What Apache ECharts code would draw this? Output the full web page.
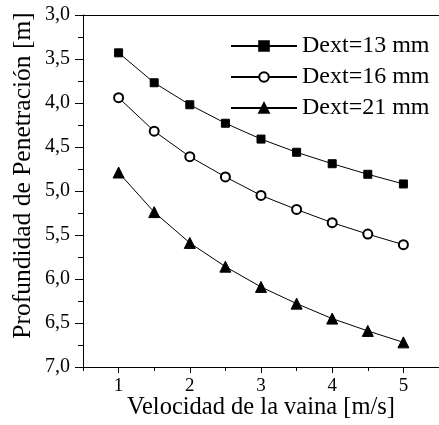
<!DOCTYPE html>
<html>
<head>
<meta charset="utf-8">
<script src="https://cdn.jsdelivr.net/npm/echarts@6/dist/echarts.min.js"></script>
<style>
html,body{margin:0;padding:0;background:#fff;}
#chart{width:439px;height:425px;}
</style>
</head>
<body>
<div id="chart"></div>
<script>
var xVals = [1, 1.5, 2, 2.5, 3, 3.5, 4, 4.5, 5];
var d13 = [3.43, 3.77, 4.02, 4.23, 4.41, 4.56, 4.69, 4.81, 4.92];
var d16 = [3.94, 4.32, 4.61, 4.84, 5.05, 5.21, 5.36, 5.49, 5.61];
var d21 = [4.79, 5.24, 5.59, 5.86, 6.09, 6.28, 6.45, 6.59, 6.72];
var seriesNames = ['Dext=13 mm', 'Dext=16 mm', 'Dext=21 mm'];
var xMajorTicks = [1, 2, 3, 4, 5];
var xMinorTicks = [0.5, 1.5, 2.5, 3.5, 4.5];
var xTitle = 'Velocidad de la vaina [m/s]';
var yTitle = 'Profundidad de Penetración [m]';

var FONT = '"Liberation Serif", "Times New Roman", serif';

function pairs(ys) { return xVals.map(function (x, i) { return [x, ys[i]]; }); }

var chart = echarts.init(document.getElementById('chart'), null, {renderer: 'canvas'});
var baseSeries = {
  type: 'line',
  xAxisIndex: 0,
  yAxisIndex: 0,
  lineStyle: {color: '#000', width: 1},
  itemStyle: {color: '#000', borderColor: '#000', borderWidth: 1},
  animation: false,
  z: 3
};
chart.setOption({
  backgroundColor: '#fff',
  animation: false,
  grid: {left: 83, top: 15, right: -2, bottom: 52, containLabel: false},
  legend: {
    orient: 'vertical',
    left: 230, top: 34, padding: 0,
    itemWidth: 66, itemHeight: 12, itemGap: 7,
    textStyle: {fontSize: 24, color: '#000', fontFamily: FONT},
    data: seriesNames
  },
  xAxis: [
    {
      type: 'value', position: 'bottom', min: 0.5, max: 5.5,
      name: xTitle, nameLocation: 'middle', nameGap: 28, nameMoveOverlap: false,
      nameTextStyle: {fontSize: 24.5, color: '#000', fontFamily: FONT},
      axisLine: {show: true, lineStyle: {color: '#000', width: 1}},
      axisTick: {show: true, length: 6, customValues: xMajorTicks, lineStyle: {color: '#000'}},
      axisLabel: {show: true, customValues: xMajorTicks, margin: 10, fontSize: 19, color: '#000', fontFamily: FONT},
      splitLine: {show: false}
    },
    {
      type: 'value', position: 'bottom', min: 0.5, max: 5.5,
      axisLine: {show: false},
      axisTick: {show: true, length: 4, customValues: xMinorTicks, lineStyle: {color: '#000'}},
      axisLabel: {show: false},
      splitLine: {show: false}
    },
    {
      type: 'value', position: 'top', min: 0.5, max: 5.5,
      axisLine: {show: true, lineStyle: {color: '#000', width: 1}},
      axisTick: {show: false},
      axisLabel: {show: false},
      splitLine: {show: false}
    }
  ],
  yAxis: {
    type: 'value', min: 3, max: 7, interval: 0.5, inverse: true,
    name: yTitle, nameLocation: 'middle', nameGap: 47, nameMoveOverlap: false,
    nameTextStyle: {fontSize: 25.5, color: '#000', fontFamily: FONT, padding: [0, 0, 0, 31]},
    axisLine: {show: true, lineStyle: {color: '#000', width: 1}},
    axisTick: {show: true, length: 8, lineStyle: {color: '#000'}},
    minorTick: {show: true, splitNumber: 2, length: 5, lineStyle: {color: '#000'}},
    axisLabel: {margin: 13, fontSize: 20, color: '#000', fontFamily: FONT,
      formatter: function (v) { return v.toFixed(1).replace('.', ','); }},
    splitLine: {show: false},
    minorSplitLine: {show: false}
  },
  series: [
    Object.assign({}, baseSeries, {name: seriesNames[0], data: pairs(d13), symbol: 'rect', symbolSize: 8}),
    Object.assign({}, baseSeries, {name: seriesNames[1], data: pairs(d16), symbol: 'emptyCircle', symbolSize: 9}),
    Object.assign({}, baseSeries, {name: seriesNames[2], data: pairs(d21), symbol: 'triangle', symbolSize: 11})
  ]
});
</script>
</body>
</html>
